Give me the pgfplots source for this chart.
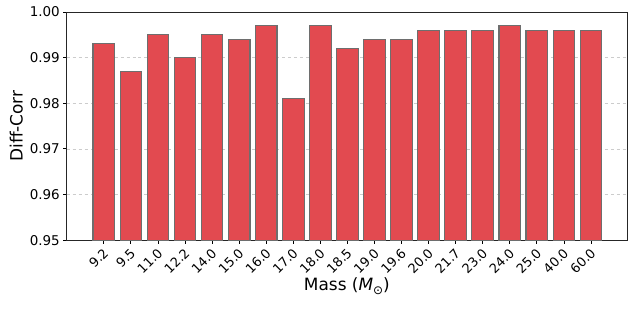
\documentclass[border=0pt]{standalone}
\usepackage{pgfplots}
\pgfplotsset{compat=1.18}
\usepackage{fontspec}
\setmainfont{DejaVu Sans}
\definecolor{barred}{RGB}{226,74,80}
\definecolor{baredge}{RGB}{110,110,110}
\begin{document}
\begin{tikzpicture}
\begin{axis}[
  scale only axis,
  width=560bp, height=228bp,
  ymin=0.95, ymax=1.00,
  xmin=-1.37, xmax=19.33,
  ytick={0.95,0.96,0.97,0.98,0.99,1.00},
  yticklabel style={/pgf/number format/fixed,/pgf/number format/fixed zerofill,/pgf/number format/precision=2,font=\fontsize{13.5}{16}\selectfont},
  /pgf/number format/assume math mode=true,
  xtick=data,
  xticklabels={9.2,9.5,11.0,12.2,14.0,15.0,16.0,17.0,18.0,18.5,19.0,19.6,20.0,21.7,23.0,24.0,25.0,40.0,60.0},
  xticklabel style={rotate=45, anchor=north east, font=\fontsize{13}{15}\selectfont, inner sep=1.5pt, xshift=-2pt},
  tick align=outside,
  tick pos=left,
  major tick length=3.5pt,
  tick style={black, line width=0.8pt},
  axis line style={black!85, line width=0.8pt},
  ymajorgrids,
  grid style={dashed, gray!40, line width=0.6pt},
  ylabel={Diff-Corr},
  xlabel={Mass ({\itshape M}\raisebox{-0.25em}{\fontsize{12}{14}\selectfont ⊙})},
  label style={font=\fontsize{17}{20}\selectfont},
  ylabel style={yshift=0pt},
  xlabel style={yshift=3pt},
  ybar, bar width=0.8,
]
\addplot[fill=barred, draw=baredge, line width=1.1pt] coordinates {
(0,0.993) (1,0.987) (2,0.995) (3,0.990) (4,0.995) (5,0.994) (6,0.997) (7,0.981) (8,0.997) (9,0.992)
(10,0.994) (11,0.994) (12,0.996) (13,0.996) (14,0.996) (15,0.997) (16,0.996) (17,0.996) (18,0.996)
};
\end{axis}
\pgfresetboundingbox
\path ([shift={(-66.7bp,-68bp)}]current axis.south west) rectangle ([shift={(7bp,12bp)}]current axis.north east);
\end{tikzpicture}
\end{document}
